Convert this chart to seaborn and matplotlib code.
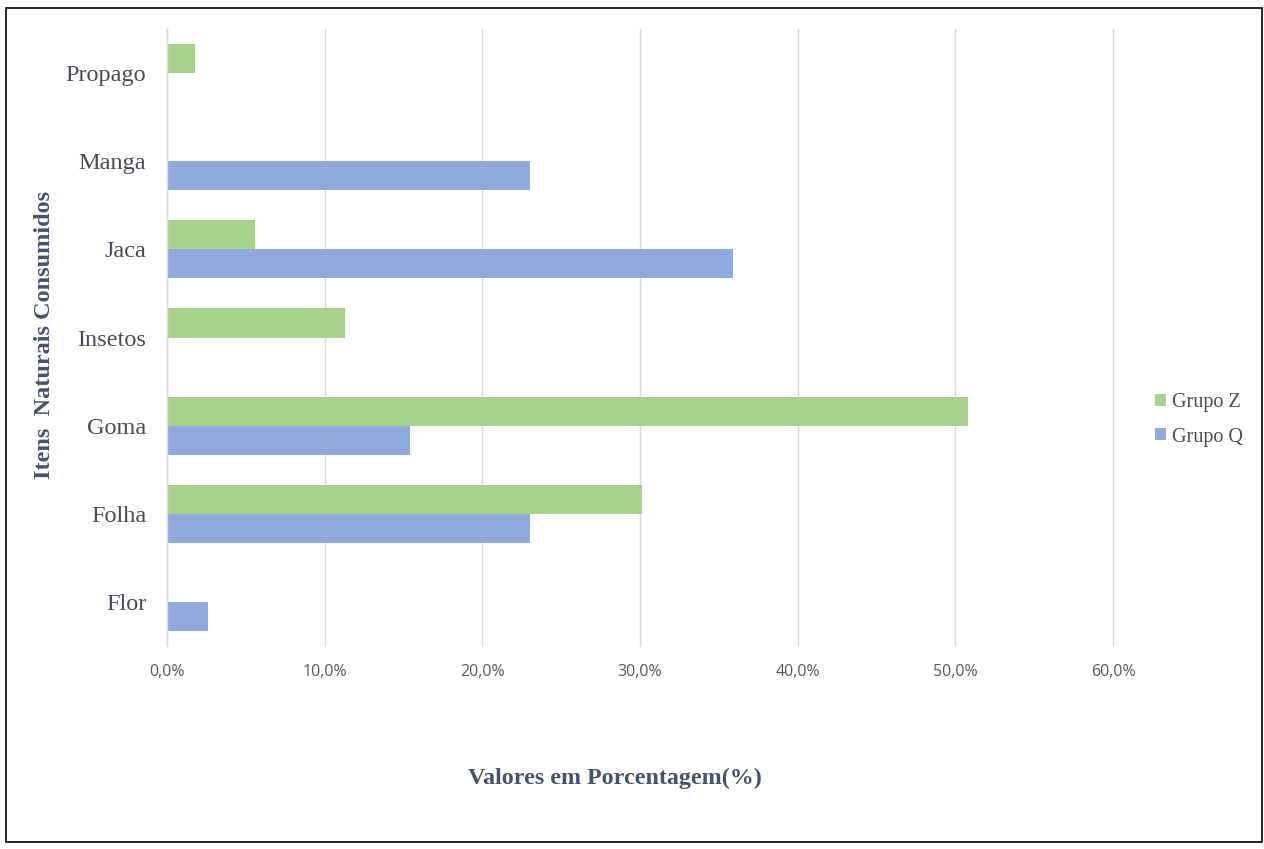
import matplotlib
matplotlib.use("Agg")
import matplotlib.pyplot as plt
import seaborn as sns
import pandas as pd
from matplotlib.patches import Rectangle
from matplotlib.ticker import FuncFormatter

categories = ["Propago", "Manga", "Jaca", "Insetos", "Goma", "Folha", "Flor"]
grupo_z = [1.8, 0.0, 5.6, 11.3, 50.8, 30.1, 0.0]
grupo_q = [0.0, 23.0, 35.9, 0.0, 15.4, 23.0, 2.6]
groups = ["Grupo Z", "Grupo Q"]
colors = ["#A9D18E", "#8FAADC"]
xticks = [0, 10, 20, 30, 40, 50, 60]

rows = []
for c, z, q in zip(categories, grupo_z, grupo_q):
    rows.append({"Item": c, "Grupo": groups[0], "Valor": z})
    rows.append({"Item": c, "Grupo": groups[1], "Valor": q})
df = pd.DataFrame(rows)

sns.set_theme(style="white")
plt.rcParams["font.family"] = ["Liberation Serif", "DejaVu Serif"]

W, H = 1264, 849
fig = plt.figure(figsize=(W / 100, H / 100), dpi=100)
ax = fig.add_axes([167 / W, 1 - 646 / H, (1113 - 167) / W, (646 - 29) / H])

sns.barplot(data=df, x="Valor", y="Item", hue="Grupo", order=categories,
            hue_order=groups, palette=colors, orient="h", width=0.66,
            linewidth=0, saturation=1, errorbar=None, ax=ax)

ax.set_xlim(0, 60)
ax.set_xticks(xticks)
ax.xaxis.set_major_formatter(FuncFormatter(lambda v, p: f"{v:.1f}%".replace(".", ",")))
ax.grid(axis="x", color="#D9D9D9", linewidth=1)
ax.grid(axis="y", visible=False)
for gl in ax.get_xgridlines():
    gl.set_clip_on(False)
ax.set_axisbelow(True)
for s in ["top", "right", "bottom"]:
    ax.spines[s].set_visible(False)
ax.spines["left"].set_color("#D9D9D9")
ax.spines["left"].set_linewidth(1)
ax.tick_params(axis="both", length=0)
ax.tick_params(axis="x", pad=13)
ax.tick_params(axis="y", pad=15)
for lbl in ax.get_xticklabels():
    lbl.set_fontfamily(["Open Sans", "DejaVu Sans"])
    lbl.set_fontsize(11.5)
    lbl.set_color("#595959")
for lbl in ax.get_yticklabels():
    lbl.set_fontsize(17.5)
    lbl.set_color("#474D5A")
ax.set_xlabel("")
ax.set_ylabel("")

fig.text(615 / W, 1 - 778 / H, "Valores em Porcentagem(%)", ha="center", va="center",
         fontsize=17.3, fontweight="bold", color="#44546A")
fig.text(45 / W, 1 - 335 / H, "Itens  Naturais Consumidos", ha="center", va="center",
         rotation=90, fontsize=17.5, fontweight="bold", color="#44546A")

handles, labels = ax.get_legend_handles_labels()
ax.legend(handles, labels, loc="center left", bbox_to_anchor=(1137 / W, 1 - 420 / H),
          bbox_transform=fig.transFigure, frameon=False, fontsize=14.5,
          handlelength=0.55, handleheight=0.55, handletextpad=0.3, labelspacing=0.75,
          labelcolor="#474D5A")

fig.add_artist(Rectangle((6 / W, 1 - 842 / H), (1262 - 6) / W, (842 - 8) / H,
                         transform=fig.transFigure, fill=False, edgecolor="black",
                         linewidth=1.2))

fig.savefig("out.png", dpi=100)
